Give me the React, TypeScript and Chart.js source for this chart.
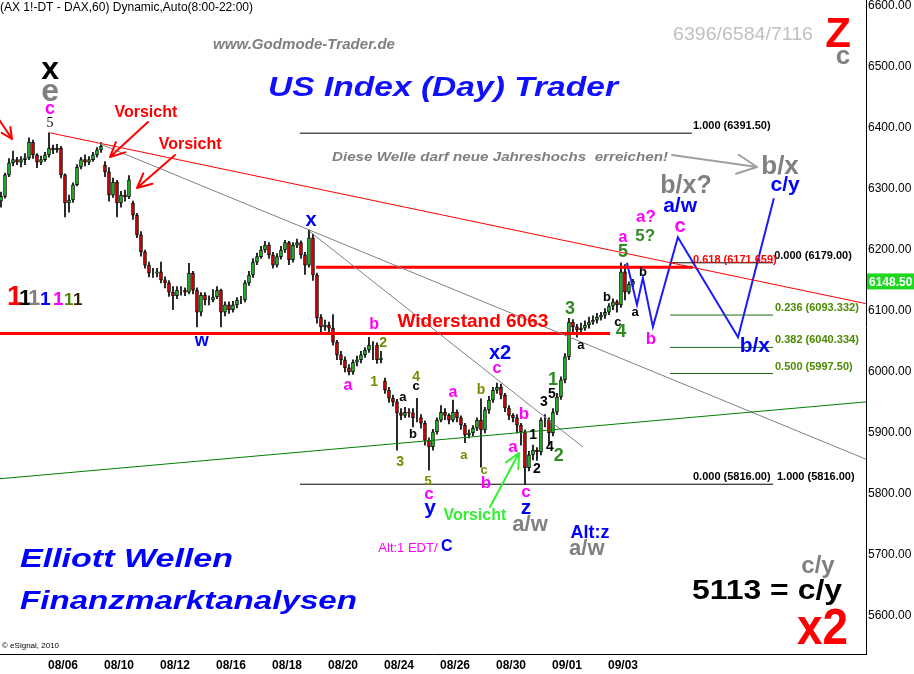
import React, { useEffect, useRef } from "react";
import { Chart, registerables } from "chart.js";

Chart.register(...registerables);

// ---------------- DATA ----------------
const tradingDays = [
  "08/03", "08/04", "08/05", "08/06", "08/09", "08/10", "08/11", "08/12", "08/13",
  "08/16", "08/17", "08/18", "08/19", "08/20", "08/23", "08/24", "08/25", "08/26",
  "08/27", "08/30", "08/31", "09/01", "09/02", "09/03",
];
const xTickLabels = ["08/06", "08/10", "08/12", "08/16", "08/18", "08/20", "08/24", "08/26", "08/30", "09/01", "09/03"];
const yTickValues = [5600, 5700, 5800, 5900, 6000, 6100, 6200, 6300, 6400, 6500, 6600];

const BARS_PER_DAY = 7; // 2-hour candles, 8:00-22:00 session
const START_SLOT = 5; // first visible candle slot (of 08/03)

const opens = [
  6280, 6288, 6323, 6343, 6348, 6344, 6348, 6351, 6377, 6356,
  6344, 6348, 6356, 6367, 6364, 6367, 6323, 6277, 6282, 6307,
  6336, 6348, 6344, 6348, 6356, 6364, 6339, 6328, 6290, 6311,
  6277, 6290, 6287, 6277, 6257, 6225, 6197, 6175, 6162, 6162,
  6164, 6151, 6146, 6131, 6125, 6134, 6134, 6131, 6162, 6134,
  6098, 6126, 6118, 6118, 6123, 6134, 6098, 6110, 6102, 6110,
  6118, 6118, 6146, 6159, 6180, 6189, 6200, 6208, 6192, 6175,
  6189, 6200, 6212, 6184, 6208, 6212, 6192, 6175, 6220, 6159,
  6089, 6074, 6077, 6072, 6049, 6028, 6020, 6007, 6000, 6016,
  6020, 6028, 6036, 6044, 6044, 6020, 5985, 5970, 5957, 5951,
  5933, 5929, 5934, 5933, 5925, 5925, 5916, 5888, 5877, 5902,
  5921, 5934, 5929, 5921, 5934, 5925, 5913, 5897, 5900, 5908,
  5921, 5905, 5938, 5954, 5970, 5975, 5962, 5941, 5929, 5925,
  5913, 5902, 5843, 5864, 5872, 5869, 5921, 5921, 5900, 5934,
  5959, 5987, 6025, 6082, 6074, 6069, 6072, 6077, 6082, 6085,
  6090, 6093, 6098, 6108, 6115, 6110, 6164, 6131, 6144,
];
const highs = [
  6295, 6326, 6350, 6362, 6352, 6353, 6358, 6384, 6380, 6358,
  6354, 6360, 6392, 6372, 6373, 6370, 6325, 6290, 6310, 6340,
  6352, 6356, 6353, 6360, 6368, 6376, 6345, 6335, 6318, 6314,
  6296, 6298, 6322, 6280, 6260, 6230, 6200, 6180, 6170, 6170,
  6180, 6156, 6150, 6140, 6140, 6140, 6138, 6178, 6165, 6138,
  6130, 6130, 6125, 6135, 6140, 6136, 6115, 6115, 6116, 6122,
  6124, 6150, 6165, 6186, 6195, 6206, 6214, 6212, 6196, 6194,
  6206, 6216, 6214, 6212, 6218, 6215, 6196, 6233, 6226, 6162,
  6094, 6085, 6082, 6094, 6052, 6034, 6025, 6012, 6020, 6026,
  6034, 6040, 6057, 6050, 6048, 6034, 5990, 5975, 5962, 5955,
  5940, 5942, 5940, 5940, 5957, 5930, 5920, 5892, 5906, 5925,
  5945, 5940, 5932, 5954, 5938, 5928, 5916, 5905, 5912, 5925,
  5956, 5942, 5960, 5975, 5982, 5980, 5965, 5945, 5932, 5930,
  5916, 5905, 5870, 5880, 5876, 5925, 5930, 5925, 5940, 5965,
  5992, 6030, 6088, 6086, 6078, 6080, 6084, 6090, 6092, 6096,
  6098, 6104, 6112, 6120, 6118, 6179, 6176, 6148, 6152,
];
const lows = [
  6270, 6285, 6320, 6338, 6340, 6336, 6340, 6348, 6350, 6335,
  6340, 6345, 6352, 6358, 6360, 6318, 6254, 6262, 6278, 6305,
  6333, 6338, 6340, 6345, 6352, 6360, 6320, 6280, 6286, 6254,
  6270, 6280, 6284, 6250, 6220, 6190, 6170, 6156, 6155, 6156,
  6146, 6138, 6124, 6102, 6120, 6126, 6125, 6128, 6128, 6074,
  6092, 6110, 6110, 6115, 6120, 6074, 6092, 6096, 6098, 6105,
  6112, 6115, 6142, 6155, 6176, 6186, 6196, 6186, 6170, 6172,
  6185, 6196, 6176, 6180, 6204, 6186, 6160, 6172, 6150, 6080,
  6066, 6068, 6066, 6044, 6020, 6012, 6000, 5995, 5996, 6010,
  6015, 6024, 6032, 6020, 6014, 6015, 5965, 5950, 5944, 5872,
  5922, 5925, 5926, 5910, 5918, 5908, 5880, 5839, 5872, 5898,
  5918, 5922, 5915, 5918, 5918, 5906, 5884, 5892, 5895, 5904,
  5844, 5900, 5932, 5950, 5965, 5956, 5935, 5922, 5918, 5900,
  5880, 5816, 5838, 5856, 5855, 5864, 5910, 5880, 5895, 5930,
  5955, 5982, 6020, 6066, 6057, 6062, 6068, 6072, 6078, 6080,
  6085, 6088, 6094, 6102, 6098, 6106, 6118, 6128, 6140,
];
const closes = [
  6288, 6323, 6343, 6348, 6344, 6348, 6351, 6377, 6356, 6344,
  6348, 6356, 6367, 6364, 6367, 6323, 6277, 6282, 6307, 6336,
  6348, 6344, 6348, 6356, 6364, 6370, 6328, 6290, 6311, 6277,
  6290, 6287, 6315, 6257, 6225, 6197, 6175, 6162, 6162, 6164,
  6151, 6146, 6131, 6125, 6134, 6134, 6131, 6162, 6134, 6098,
  6126, 6118, 6118, 6123, 6134, 6098, 6110, 6102, 6110, 6118,
  6118, 6146, 6159, 6180, 6189, 6200, 6208, 6192, 6175, 6189,
  6200, 6212, 6184, 6208, 6212, 6192, 6175, 6220, 6159, 6089,
  6074, 6077, 6072, 6049, 6028, 6020, 6007, 6000, 6016, 6020,
  6028, 6036, 6044, 6044, 6020, 6023, 5970, 5957, 5951, 5933,
  5929, 5934, 5933, 5925, 5925, 5916, 5888, 5877, 5902, 5921,
  5934, 5929, 5921, 5934, 5925, 5913, 5897, 5900, 5908, 5921,
  5905, 5938, 5954, 5970, 5975, 5962, 5941, 5929, 5925, 5913,
  5902, 5843, 5864, 5872, 5869, 5921, 5921, 5900, 5934, 5959,
  5987, 6025, 6082, 6074, 6069, 6072, 6077, 6082, 6085, 6090,
  6093, 6098, 6108, 6115, 6110, 6164, 6131, 6144, 6148.5,
];

// trend lines: [tradingDayIndex, price]
const redDownTrend = [[2.54, 6392], [31.68, 6112]];
const grayTrendLong = [[4.32, 6374], [31.68, 5857]];
const grayTrendSteep = [[11.82, 6230], [21.57, 5877]];
const greenUpTrend = [[0.75, 5825], [31.68, 5951]];
const widerstandLevel = [[0.75, 6063], [22.54, 6063]];
const projectionPath = [
  [23.14, 6179], [23.5, 6110], [23.71, 6154], [24.07, 6074],
  [24.96, 6221], [27.11, 6057], [28.39, 6285],
];

// Fibonacci levels
const fibValues = [6391.5, 6179.0, 6171.659, 6093.332, 6040.334, 5997.5, 5816.0];
const fibTexts = ["1.000 (6391.50)", "0.000 (6179.00)", "0.618 (6171.659)", "0.236 (6093.332)", "0.382 (6040.334)", "0.500 (5997.50)", "0.000 (5816.00)"];
const fibFrom = [11.46, 24.68, 12.04, 24.68, 24.68, 24.68, 11.46];
const fibTo = [25.46, 28.36, 25.5, 28.36, 28.36, 28.36, 28.36];
const fibTextAt = [25.5, 28.4, 25.5, 28.43, 28.43, 28.43, 25.5];

const RED = "#ff0000";
const BLUE = "#0000ff";
const MAG = "#ff00ff";
const GRAY = "#808080";
const OLIVE = "#768c00";
const GREEN = "#2e8b22";
const LGREEN = "#33ee33";
const BLACK = "#000000";
const FIBGREEN = "#4b8b00";
const fibColors = [BLACK, BLACK, RED, FIBGREEN, FIBGREEN, FIBGREEN, BLACK];
const fibLineColors = [BLACK, BLACK, RED, "#1e6e1e", "#1e6e1e", "#1e6e1e", BLACK];
const fibLineWidths = [1, 1, 3, 1, 1, 1, 1];

// Elliott wave labels: [text, tradingDayIndex, price, color, fontSize, style]
const waveLabels: [string, number, number, string, number, string?][] = [
  ["x", 2.54, 6495, BLACK, 32],
  ["e", 2.54, 6459, GRAY, 32],
  ["c", 2.54, 6431, MAG, 18],
  ["5", 2.54, 6408, BLACK, 14, "serif"],
  ["Vorsicht", 5.96, 6426, RED, 16],
  ["Vorsicht", 7.54, 6372, RED, 16],
  ["w", 7.96, 6051, BLUE, 18],
  ["x", 11.86, 6249, BLUE, 20],
  ["b", 14.11, 6077, MAG, 16],
  ["2", 14.43, 6048, OLIVE, 14],
  ["a", 13.18, 5977, MAG, 16],
  ["1", 14.11, 5984, OLIVE, 14],
  ["Widerstand 6063", 17.64, 6082, RED, 19],
  ["4", 15.61, 5992, OLIVE, 14],
  ["c", 15.61, 5976, BLACK, 13],
  ["a", 15.14, 5958, BLACK, 13],
  ["b", 15.5, 5898, BLACK, 13],
  ["3", 15.04, 5853, OLIVE, 14],
  ["a", 16.93, 5966, MAG, 16],
  ["a", 17.32, 5864, OLIVE, 13],
  ["b", 17.93, 5971, OLIVE, 14],
  ["x2", 18.61, 6030, BLUE, 20],
  ["c", 18.5, 6005, MAG, 16],
  ["c", 18.04, 5838, OLIVE, 13],
  ["b", 18.11, 5818, MAG, 17],
  ["5", 16.04, 5820, OLIVE, 13],
  ["c", 16.07, 5800, MAG, 17],
  ["y", 16.11, 5777, BLUE, 21],
  ["b", 19.46, 5930, MAG, 17],
  ["a", 19.07, 5877, MAG, 17],
  ["1", 19.79, 5897, BLACK, 14],
  ["2", 19.93, 5841, BLACK, 14],
  ["3", 20.18, 5951, BLACK, 14],
  ["5", 20.46, 5964, BLACK, 14],
  ["1", 20.5, 5987, GREEN, 18],
  ["4", 20.39, 5876, BLACK, 14],
  ["2", 20.71, 5862, GREEN, 18],
  ["c", 19.54, 5802, MAG, 17],
  ["z", 19.54, 5776, BLUE, 21],
  ["a/w", 19.68, 5749, GRAY, 22],
  ["Vorsicht", 17.71, 5764, LGREEN, 16],
  ["Alt:z", 21.82, 5736, BLUE, 18],
  ["a/w", 21.71, 5710, GRAY, 22],
  ["Alt:1 EDT/", 15.32, 5710, MAG, 13, "normal"],
  ["C", 16.71, 5713, BLUE, 16],
  ["3", 21.11, 6103, GREEN, 18],
  ["a", 21.5, 6043, BLACK, 13],
  ["b", 22.43, 6123, BLACK, 13],
  ["c", 22.82, 6082, BLACK, 13],
  ["4", 22.93, 6066, GREEN, 19],
  ["5", 23.0, 6197, GREEN, 18],
  ["a", 23.0, 6221, MAG, 16],
  ["a?", 23.82, 6253, MAG, 17],
  ["5?", 23.79, 6223, GREEN, 17],
  ["b", 23.71, 6164, BLACK, 13],
  ["a", 23.43, 6097, BLACK, 13],
  ["b", 24.0, 6053, MAG, 17],
  ["c", 25.04, 6239, MAG, 20],
  ["a/w", 25.04, 6272, BLUE, 21],
  ["b/x?", 25.25, 6305, GRAY, 25],
  ["b/x", 28.61, 6336, GRAY, 26],
  ["c/y", 28.79, 6307, BLUE, 21],
  ["b/x", 27.71, 6043, BLUE, 21],
];

// ---------------- DRAWING HELPERS ----------------
const FONT = "Arial, 'Liberation Sans', sans-serif";

function drawText(ctx: CanvasRenderingContext2D, text: string, x: number, y: number, font: string, color: string, align: CanvasTextAlign = "center", fitWidth?: number) {
  ctx.save();
  ctx.font = font;
  ctx.fillStyle = color;
  ctx.textBaseline = "middle";
  ctx.textAlign = align;
  if (fitWidth) {
    const w = ctx.measureText(text).width;
    ctx.translate(x, y);
    ctx.scale(fitWidth / w, 1);
    ctx.fillText(text, 0, 0);
  } else {
    ctx.fillText(text, x, y);
  }
  ctx.restore();
}

function drawArrow(ctx: CanvasRenderingContext2D, x1: number, y1: number, x2: number, y2: number, color: string, width: number, head: number) {
  ctx.save();
  ctx.strokeStyle = color;
  ctx.lineWidth = width;
  ctx.lineCap = "round";
  ctx.beginPath();
  ctx.moveTo(x1, y1);
  ctx.lineTo(x2, y2);
  const a = Math.atan2(y2 - y1, x2 - x1);
  for (const s of [-1, 1]) {
    ctx.moveTo(x2, y2);
    ctx.lineTo(x2 - head * Math.cos(a + s * 0.45), y2 - head * Math.sin(a + s * 0.45));
  }
  ctx.stroke();
  ctx.restore();
}

const overlayPlugin = {
  id: "overlay",
  afterDatasetsDraw(chart: any) {
    const ctx: CanvasRenderingContext2D = chart.ctx;
    const xs = chart.scales.x;
    const ys = chart.scales.y;

    // fib labels
    fibTexts.forEach((t, i) => {
      drawText(ctx, t, xs.getPixelForValue(fibTextAt[i]), ys.getPixelForValue(fibValues[i]) - 7, `bold 11px ${FONT}`, fibColors[i], "left");
    });
    drawText(ctx, "1.000 (5816.00)", xs.getPixelForValue(28.5), ys.getPixelForValue(5816) - 7, `bold 11px ${FONT}`, BLACK, "left");

    // wave labels
    waveLabels.forEach(([t, d, v, c, s, st]) => {
      const f = st === "serif" ? `${s}px 'Liberation Serif', serif` : st === "normal" ? `${s}px ${FONT}` : `bold ${s}px ${FONT}`;
      drawText(ctx, t, xs.getPixelForValue(d), ys.getPixelForValue(v), f, c, "center");
    });

    // headline texts
    drawText(ctx, "(AX 1!-DT - DAX,60) Dynamic,Auto(8:00-22:00)", 0, 8, `12px ${FONT}`, BLACK, "left", 253);
    drawText(ctx, "www.Godmode-Trader.de", 213, 45, `italic bold 14px ${FONT}`, "#7f7f7f", "left", 182);
    drawText(ctx, "US Index (Day) Trader", 268, 88, `italic bold 28px ${FONT}`, "#1010ff", "left", 350);
    drawText(ctx, "6396/6584/7116", 673, 35, `19px ${FONT}`, "#c0c0c0", "left", 140);
    drawText(ctx, "Z", 838, 35, `bold 42px ${FONT}`, RED, "center");
    drawText(ctx, "c", 843, 57, `bold 26px ${FONT}`, GRAY, "center");
    drawText(ctx, "Diese Welle darf neue Jahreshochs  erreichen!", 332, 157, `italic bold 13px ${FONT}`, GRAY, "left", 336);
    drawText(ctx, "Elliott Wellen", 20, 560, `italic bold 25px ${FONT}`, BLUE, "left", 213);
    drawText(ctx, "Finanzmarktanalysen", 20, 602, `italic bold 25px ${FONT}`, BLUE, "left", 337);
    drawText(ctx, "c/y", 818, 566, `bold 24px ${FONT}`, GRAY, "center");
    drawText(ctx, "5113 = c/y", 692, 591, `bold 28px ${FONT}`, BLACK, "left", 150);
    drawText(ctx, "x2", 797, 630, `bold 50px ${FONT}`, RED, "left", 51);
    drawText(ctx, "\u00a9 eSignal, 2010", 2, 646, `8px ${FONT}`, BLACK, "left");

    // degree legend "1111111"
    const ones: [string, number, number][] = [
      [RED, 7, 28], [BLACK, 19, 22], [GRAY, 28, 22], [BLUE, 40, 19], [MAG, 53, 19], ["#4a8a00", 64, 17], ["#332200", 73, 17],
    ];
    ones.forEach(([c, x, s]) => {
      ctx.save();
      ctx.font = `bold ${s}px ${FONT}`;
      ctx.fillStyle = c;
      ctx.textBaseline = "alphabetic";
      ctx.textAlign = "left";
      ctx.fillText("1", x, 305);
      ctx.restore();
    });

    // arrows
    drawArrow(ctx, -6, 112, 12, 139, RED, 2, 12);
    drawArrow(ctx, 148, 122, 110, 157, RED, 2, 16);
    drawArrow(ctx, 175, 155, 137, 188, RED, 2, 16);
    drawArrow(ctx, 490, 507, 519, 453, LGREEN, 2, 16);
    drawArrow(ctx, 672, 155, 757, 167, "#a0a0a0", 2, 22);
  },
  afterDraw(chart: any) {
    const ctx: CanvasRenderingContext2D = chart.ctx;
    const ys = chart.scales.y;
    const last = closes[closes.length - 1];
    const py = ys.getPixelForValue(last);
    ctx.save();
    ctx.fillStyle = "#1ed81e";
    ctx.fillRect(chart.chartArea.right + 1, py - 8, 48, 16);
    ctx.restore();
    drawText(ctx, last.toFixed(2), chart.chartArea.right + 3, py + 1, `bold 12px ${FONT}`, "#ffffff", "left");
  },
};

// ---------------- COMPONENT ----------------
export default function App() {
  const ref = useRef<HTMLCanvasElement | null>(null);

  useEffect(() => {
    if (!ref.current) return;
    Chart.defaults.font.family = FONT;
    const candleX = closes.map((_, i) => (START_SLOT + i + 0.5) / BARS_PER_DAY);
    const pts = (arr: number[][]) => arr.map(([x, y]) => ({ x, y }));
    const lineDs = (data: number[][], color: string, width: number) => ({
      type: "line" as const,
      data: pts(data),
      borderColor: color,
      borderWidth: width,
      pointRadius: 0,
      fill: false,
      tension: 0,
      order: 1,
    });

    const fibDatasets = fibValues.map((v, i) =>
      lineDs([[fibFrom[i], v], [fibTo[i], v]], fibLineColors[i], fibLineWidths[i])
    );

    const chart = new Chart(ref.current, {
      type: "bar",
      data: {
        datasets: [
          {
            type: "bar",
            data: candleX.map((x, i) => ({ x, y: [lows[i], highs[i]] })) as any,
            backgroundColor: "#000000",
            barThickness: 1,
            grouped: false,
            order: 3,
          },
          {
            type: "bar",
            data: candleX.map((x, i) => ({ x, y: [opens[i], closes[i]] })) as any,
            backgroundColor: closes.map((c, i) => (c >= opens[i] ? "#22cc22" : "#ee0000")),
            borderColor: "#000000",
            borderWidth: 1,
            borderSkipped: false,
            barThickness: 3,
            grouped: false,
            order: 2,
          },
          lineDs(greenUpTrend, "#008000", 1),
          lineDs(grayTrendLong, "#808080", 1),
          lineDs(grayTrendSteep, "#808080", 1),
          lineDs(redDownTrend, "#ff0000", 1),
          lineDs(widerstandLevel, "#ff0000", 3),
          ...fibDatasets,
          lineDs(projectionPath, "#1a1aff", 2),
        ] as any,
      },
      options: {
        animation: false,
        responsive: false,
        maintainAspectRatio: false,
        layout: { padding: 0 },
        plugins: { legend: { display: false }, tooltip: { enabled: false }, title: { display: false } },
        scales: {
          x: {
            type: "linear",
            min: 0.75,
            max: 31.68,
            offset: false,
            grid: { display: false, drawTicks: false },
            border: { display: true, color: "#000000", width: 1 },
            ticks: {
              autoSkip: false,
              maxRotation: 0,
              padding: 4,
              color: "#000000",
              font: { size: 12, weight: "bold" },
              callback: (v: any) => tradingDays[Math.round(Number(v))] ?? "",
            },
            afterBuildTicks: (scale: any) => {
              scale.ticks = xTickLabels.map((l) => ({ value: tradingDays.indexOf(l) }));
            },
            afterFit: (scale: any) => {
              scale.height = 20;
              scale.paddingLeft = 0;
              scale.paddingRight = 0;
            },
          },
          y: {
            type: "linear",
            position: "right",
            min: 5537.7,
            max: 6609.8,
            grid: { display: false, drawTicks: false },
            border: { display: true, color: "#000000", width: 1 },
            ticks: {
              padding: 2,
              color: "#000000",
              font: { size: 12 },
              callback: (v: any) => Number(v).toFixed(2),
            },
            afterBuildTicks: (scale: any) => {
              scale.ticks = yTickValues.map((v) => ({ value: v }));
            },
            afterFit: (scale: any) => {
              scale.width = 48;
              scale.paddingTop = 0;
              scale.paddingBottom = 0;
            },
          },
        },
      } as any,
      plugins: [overlayPlugin],
    });
    return () => chart.destroy();
  }, []);

  return (
    <div style={{ position: "fixed", left: 0, top: 0, width: 914, height: 674, background: "#ffffff" }}>
      <canvas ref={ref} width={914} height={674} />
    </div>
  );
}
